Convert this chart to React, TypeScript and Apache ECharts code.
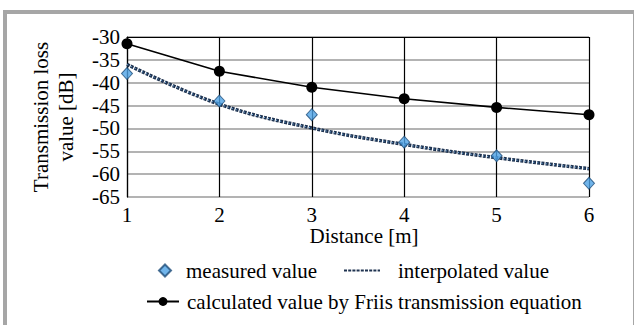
import React, { useEffect, useRef } from "react";
import * as echarts from "echarts";

const distances = [1, 2, 3, 4, 5, 6];
const measured = [-38, -44, -47, -53, -56, -62];
const interpolated = [-36, -44.7, -49.9, -53.5, -56.4, -58.8];
const friis = [-31.5, -37.5, -41, -43.5, -45.4, -47];
const yTicks = { min: -65, max: -30, step: 5 };
const xTicks = { min: 1, max: 6, step: 1 };

const FONT = "Liberation Serif";
const FS = 21;

export default function App() {
  const ref = useRef<HTMLDivElement>(null);
  useEffect(() => {
    document.body.style.margin = "0";
    const chart = echarts.init(ref.current!, undefined, { renderer: "svg" });
    const pair = (arr: number[]) => distances.map((d, i) => [d, arr[i]]);
    const txt = { fontSize: FS, fontFamily: FONT, color: "#000" };
    chart.setOption({
      animation: false,
      backgroundColor: "#fff",
      textStyle: { fontFamily: FONT, color: "#000" },
      grid: { left: 127, right: 47, top: 37, bottom: 128 },
      xAxis: [
        {
          type: "value",
          min: xTicks.min,
          max: xTicks.max,
          interval: xTicks.step,
          position: "bottom",
          name: "Distance [m]",
          nameLocation: "middle",
          nameGap: 27,
          nameTextStyle: { ...txt, padding: [0, 0, 0, 12] },
          axisLine: { show: false },
          axisTick: { show: false },
          axisLabel: { ...txt, margin: 7 },
          splitLine: { show: true, lineStyle: { color: "#000", width: 1.2 } },
        },
        {
          type: "value",
          min: xTicks.min,
          max: xTicks.max,
          interval: xTicks.step,
          position: "top",
          axisLine: { show: true, onZero: false, lineStyle: { color: "#000", width: 1.2 } },
          axisTick: { show: false },
          axisLabel: { show: false },
          splitLine: { show: false },
        },
      ],
      yAxis: {
        type: "value",
        min: yTicks.min,
        max: yTicks.max,
        interval: yTicks.step,
        name: "Transmission loss\nvalue [dB]",
        nameLocation: "middle",
        nameGap: 49,
        nameTextStyle: { ...txt, lineHeight: 25 },
        axisLine: { show: true, lineStyle: { color: "#000", width: 1.2 } },
        axisTick: { show: false },
        axisLabel: { ...txt, margin: 7 },
        splitLine: { show: true, lineStyle: { color: "#b3b3b3", width: 2 } },
      },
      legend: [
        {
          data: [{ name: "measured value", icon: "diamond" }],
          left: 153,
          top: 255,
          itemWidth: 12,
          itemHeight: 12,
          textStyle: { ...txt, padding: [0, 0, 0, 10] },
        },
        {
          data: [{ name: "interpolated value", itemStyle: { opacity: 0 } }],
          left: 338,
          top: 255,
          itemWidth: 36,
          itemHeight: 11,
          textStyle: { ...txt, padding: [0, 0, 0, 13] },
        },
        {
          data: ["calculated value by Friis transmission equation"],
          left: 141,
          top: 286,
          itemWidth: 32,
          itemHeight: 11,
          textStyle: { ...txt, padding: [0, 0, 0, 3] },
        },
      ],
      graphic: [
        { type: "rect", shape: { x: 3, y: 10, width: 631, height: 4 }, style: { fill: "#a6a6a6" }, silent: true },
        { type: "rect", shape: { x: 3, y: 10, width: 4, height: 315 }, style: { fill: "#a6a6a6" }, silent: true },
        { type: "rect", shape: { x: 633, y: 10, width: 1, height: 315 }, style: { fill: "#a6a6a6" }, silent: true },
      ],
      series: [
        {
          name: "interpolated value",
          type: "line",
          smooth: 0.4,
          symbol: "none",
          data: pair(interpolated),
          lineStyle: { color: "#1f3350", width: 3.5, type: [3, 1.2] },
          itemStyle: { color: "#1f3350" },
          z: 2,
        },
        {
          name: "interpolated overlay",
          type: "line",
          smooth: 0.4,
          symbol: "none",
          data: pair(interpolated),
          lineStyle: { color: "#6fa8dc", width: 1, type: [1.2, 3] },
          z: 3,
          silent: true,
        },
        {
          name: "measured value",
          type: "scatter",
          symbol: "diamond",
          symbolSize: [11, 12],
          data: pair(measured),
          itemStyle: { color: "#4da3e6", borderColor: "#1f4e79", borderWidth: 1 },
          z: 5,
        },
        {
          name: "calculated value by Friis transmission equation",
          type: "line",
          symbol: "circle",
          symbolSize: 11,
          data: pair(friis),
          lineStyle: { color: "#000", width: 1.6 },
          itemStyle: { color: "#000" },
          z: 4,
        },
      ],
    });
    return () => chart.dispose();
  }, []);
  return <div ref={ref} style={{ width: 636, height: 325 }} />;
}
